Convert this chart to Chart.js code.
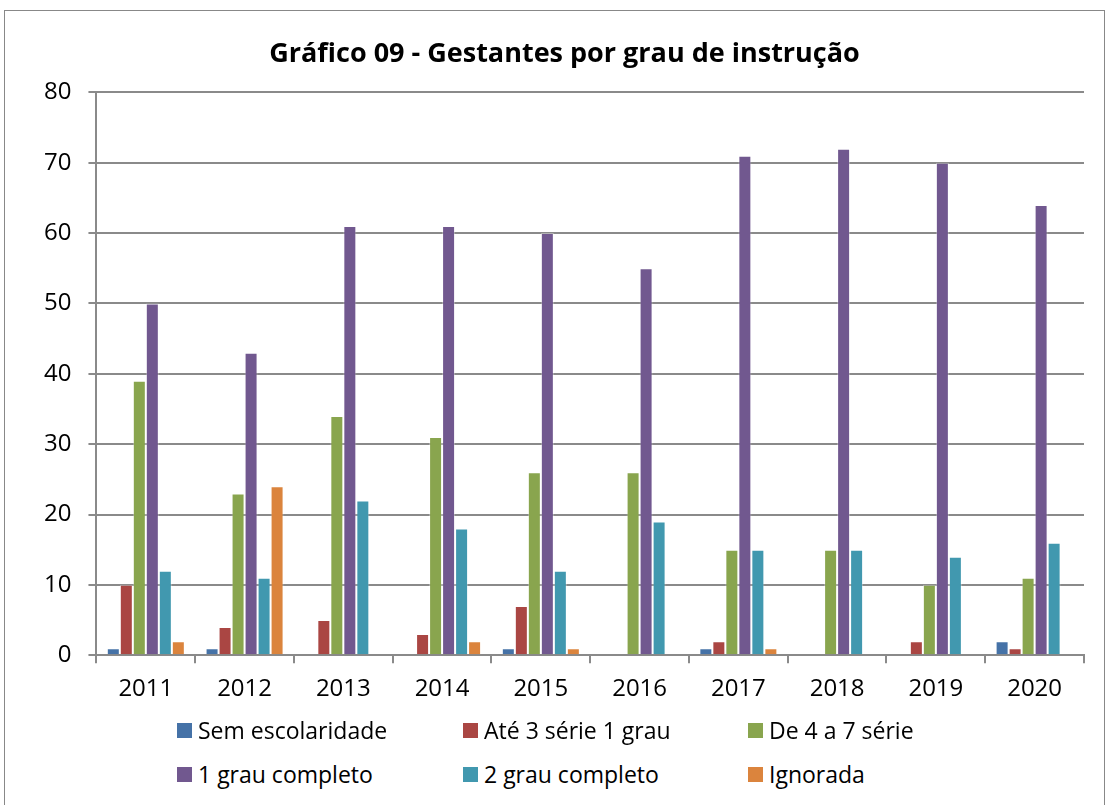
<!DOCTYPE html>
<html>
<head>
<meta charset="utf-8">
<script src="https://cdn.jsdelivr.net/npm/chart.js@4/dist/chart.umd.min.js"></script>
<style>
  body { margin: 0; background: #fff; font-family: "Open Sans", sans-serif; }
  #frame { position: absolute; left: 4px; top: 10px; width: 1101px; height: 800px; border: 1px solid #888; box-sizing: border-box; }
  #wrap { position: absolute; left: 0; top: 0; width: 1099px; height: 705px; }
  #legend { position: absolute; left: 0; top: 703px; width: 1099px; }
  .row { position: absolute; display: flex; align-items: center; font-size: 23px; height: 34px; line-height: 34px; color: #000; white-space: nowrap; }
  .box { display: inline-block; width: 15px; height: 15px; margin-right: 6px; }
</style>
</head>
<body>
<div id="frame">
  <div id="wrap"><canvas id="chart"></canvas></div>
  <div id="legend"></div>
</div>
<script>
// anos e séries
const anos = ['2011', '2012', '2013', '2014', '2015', '2016', '2017', '2018', '2019', '2020'];
const semEscolaridade = [1, 1, 0, 0, 1, 0, 1, 0, 0, 2];
const ate3Serie = [10, 4, 5, 3, 7, 0, 2, 0, 2, 1];
const de4a7Serie = [39, 23, 34, 31, 26, 26, 15, 15, 10, 11];
const grau1Completo = [50, 43, 61, 61, 60, 55, 71, 72, 70, 64];
const grau2Completo = [12, 11, 22, 18, 12, 19, 15, 15, 14, 16];
const ignorada = [2, 24, 0, 2, 1, 0, 1, 0, 0, 0];

const series = [
  { label: 'Sem escolaridade', data: semEscolaridade, color: '#4572A7' },
  { label: 'Até 3 série 1 grau', data: ate3Serie, color: '#AA4643' },
  { label: 'De 4 a 7 série', data: de4a7Serie, color: '#89A54E' },
  { label: '1 grau completo', data: grau1Completo, color: '#71588F' },
  { label: '2 grau completo', data: grau2Completo, color: '#4198AF' },
  { label: 'Ignorada', data: ignorada, color: '#DB843D' }
];

const gridCor = '#8a8a8a';
const fonte = '"Open Sans", sans-serif';

new Chart(document.getElementById('chart'), {
  type: 'bar',
  data: {
    labels: anos,
    datasets: series.map(s => ({
      label: s.label,
      data: s.data,
      backgroundColor: s.color,
      borderColor: 'rgba(255,255,255,0.35)',
      borderWidth: 1,
      categoryPercentage: 0.79,
      barPercentage: 1.0
    }))
  },
  options: {
    responsive: true,
    maintainAspectRatio: false,
    animation: false,
    layout: { padding: { left: 22, right: 20, top: 0, bottom: 0 } },
    plugins: {
      legend: { display: false },
      tooltip: { enabled: false },
      title: {
        display: true,
        // espaços no início para deslocar o título um pouco à direita
        text: '\u2002\u2009Gráfico 09 - Gestantes por grau de instrução',
        color: '#000',
        font: { family: fonte, size: 27, weight: 'bold' },
        padding: { top: 27, bottom: 22 }
      }
    },
    scales: {
      x: {
        grid: { display: true, drawOnChartArea: false, color: gridCor, lineWidth: 2, tickLength: 8, offset: true },
        border: { color: gridCor, width: 2 },
        ticks: { color: '#000', font: { family: fonte, size: 24 }, padding: 12 }
      },
      y: {
        min: 0,
        max: 80,
        ticks: { stepSize: 10, color: '#000', font: { family: fonte, size: 24 }, padding: 17 },
        grid: { color: gridCor, lineWidth: 2, tickLength: 8 },
        border: { color: gridCor, width: 2 }
      }
    }
  }
});

// legenda em grade, 3 colunas
const legend = document.getElementById('legend');
const colX = [172, 458, 743];
const rowY = [-1, 43];
series.forEach((s, i) => {
  const r = Math.floor(i / 3), c = i % 3;
  const el = document.createElement('div');
  el.className = 'row';
  el.style.left = colX[c] + 'px';
  el.style.top = rowY[r] + 'px';
  el.innerHTML = '<span class="box" style="background:' + s.color + '"></span>' + s.label;
  legend.appendChild(el);
});
</script>
</body>
</html>
